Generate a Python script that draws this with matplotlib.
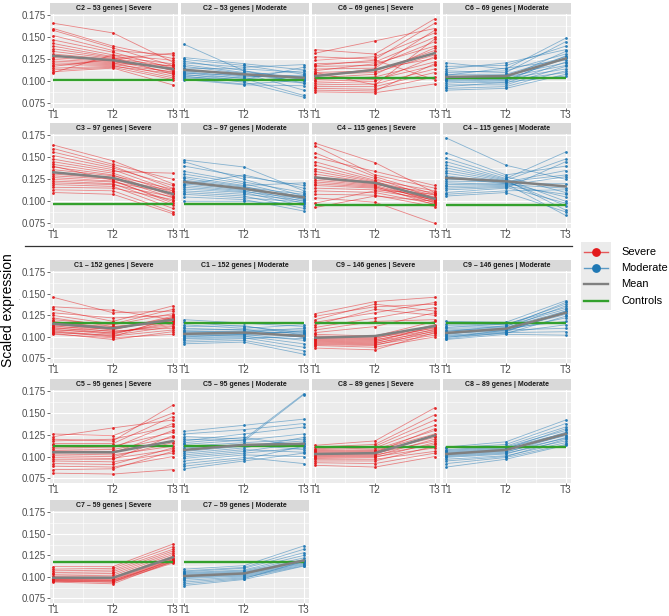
import matplotlib
matplotlib.use("Agg")
import matplotlib.pyplot as plt
from matplotlib.lines import Line2D

plt.rcParams['font.family'] = ['Liberation Sans', 'DejaVu Sans']

# ---------------- data ----------------
TIMES = ["T1", "T2", "T3"]
GROUPS = ["Severe", "Moderate"]
LEGEND_LABELS = ["Severe", "Moderate", "Mean", "Controls"]

GENE_COUNTS = {"C2": 53, "C6": 69, "C3": 97, "C4": 115, "C1": 152,
               "C9": 146, "C5": 95, "C8": 89, "C7": 59}

CONTROLS = {"C2": 0.102, "C6": 0.104, "C3": 0.0974, "C4": 0.0959, "C1": 0.1165,
            "C9": 0.1165, "C5": 0.1127, "C8": 0.1115, "C7": 0.1175}

C2_SEV_MEAN = [0.129, 0.124, 0.114]
C2_MOD_MEAN = [0.113, 0.108, 0.104]
C6_SEV_MEAN = [0.106, 0.113, 0.132]
C6_MOD_MEAN = [0.105, 0.106, 0.126]
C3_SEV_MEAN = [0.133, 0.1266, 0.1084]
C3_MOD_MEAN = [0.122, 0.1144, 0.1045]
C4_SEV_MEAN = [0.127, 0.121, 0.103]
C4_MOD_MEAN = [0.1266, 0.1227, 0.117]
C1_SEV_MEAN = [0.1152, 0.110, 0.120]
C1_MOD_MEAN = [0.1035, 0.105, 0.101]
C9_SEV_MEAN = [0.099, 0.101, 0.1126]
C9_MOD_MEAN = [0.1046, 0.1095, 0.128]
C5_SEV_MEAN = [0.105, 0.105, 0.1178]
C5_MOD_MEAN = [0.1077, 0.1135, 0.1147]
C8_SEV_MEAN = [0.103, 0.104, 0.1243]
C8_MOD_MEAN = [0.103, 0.1077, 0.126]
C7_SEV_MEAN = [0.099, 0.099, 0.1227]
C7_MOD_MEAN = [0.101, 0.104, 0.119]

C2_SEV = [(0.166, 0.155, 0.122), (0.160, 0.140, 0.126), (0.158, 0.138, 0.118), (0.152, 0.135, 0.130),
          (0.147, 0.133, 0.115), (0.143, 0.130, 0.112), (0.140, 0.128, 0.120), (0.137, 0.127, 0.108),
          (0.134, 0.126, 0.117), (0.131, 0.125, 0.113), (0.129, 0.123, 0.110), (0.127, 0.122, 0.115),
          (0.125, 0.121, 0.106), (0.123, 0.120, 0.118), (0.121, 0.119, 0.111), (0.119, 0.118, 0.104),
          (0.117, 0.125, 0.132), (0.115, 0.117, 0.109), (0.113, 0.116, 0.102), (0.111, 0.115, 0.096),
          (0.110, 0.130, 0.124)]
C2_MOD = [(0.142, 0.112, 0.098), (0.127, 0.120, 0.113), (0.125, 0.118, 0.108), (0.123, 0.112, 0.102),
          (0.121, 0.116, 0.119), (0.119, 0.110, 0.105), (0.117, 0.109, 0.090), (0.115, 0.114, 0.110),
          (0.114, 0.106, 0.104), (0.112, 0.108, 0.100), (0.111, 0.105, 0.107), (0.110, 0.103, 0.084),
          (0.109, 0.107, 0.112), (0.108, 0.101, 0.103), (0.107, 0.104, 0.098), (0.106, 0.099, 0.082),
          (0.105, 0.102, 0.116), (0.104, 0.100, 0.106), (0.103, 0.097, 0.101), (0.102, 0.096, 0.095)]
C6_SEV = [(0.136, 0.131, 0.171), (0.132, 0.146, 0.160), (0.128, 0.125, 0.166), (0.124, 0.128, 0.155),
          (0.120, 0.122, 0.150), (0.117, 0.118, 0.145), (0.114, 0.115, 0.158), (0.112, 0.120, 0.140),
          (0.110, 0.112, 0.135), (0.108, 0.110, 0.130), (0.106, 0.114, 0.126), (0.104, 0.108, 0.138),
          (0.102, 0.105, 0.122), (0.100, 0.102, 0.118), (0.098, 0.100, 0.128), (0.096, 0.097, 0.114),
          (0.094, 0.094, 0.110), (0.092, 0.091, 0.105), (0.090, 0.089, 0.120), (0.088, 0.087, 0.097),
          (0.118, 0.124, 0.102), (0.110, 0.096, 0.148)]
C6_MOD = [(0.121, 0.114, 0.149), (0.117, 0.118, 0.140), (0.114, 0.121, 0.136), (0.112, 0.110, 0.145),
          (0.110, 0.112, 0.131), (0.108, 0.108, 0.128), (0.107, 0.115, 0.124), (0.106, 0.104, 0.134),
          (0.105, 0.107, 0.121), (0.104, 0.102, 0.126), (0.103, 0.105, 0.118), (0.102, 0.100, 0.129),
          (0.101, 0.103, 0.114), (0.100, 0.098, 0.122), (0.098, 0.101, 0.110), (0.096, 0.096, 0.117),
          (0.094, 0.099, 0.106), (0.092, 0.094, 0.112), (0.090, 0.092, 0.108)]
C3_SEV = [(0.164, 0.146, 0.120), (0.160, 0.142, 0.125), (0.156, 0.140, 0.115), (0.152, 0.138, 0.118),
          (0.148, 0.136, 0.112), (0.145, 0.134, 0.132), (0.142, 0.132, 0.110), (0.139, 0.130, 0.106),
          (0.136, 0.129, 0.114), (0.133, 0.127, 0.108), (0.131, 0.126, 0.104), (0.129, 0.125, 0.112),
          (0.127, 0.123, 0.100), (0.125, 0.122, 0.109), (0.123, 0.120, 0.096), (0.121, 0.119, 0.105),
          (0.119, 0.117, 0.092), (0.116, 0.115, 0.102), (0.113, 0.112, 0.088), (0.110, 0.108, 0.086),
          (0.140, 0.124, 0.098)]
C3_MOD = [(0.147, 0.139, 0.112), (0.145, 0.125, 0.106), (0.140, 0.128, 0.118), (0.134, 0.122, 0.110),
          (0.131, 0.120, 0.104), (0.128, 0.118, 0.121), (0.126, 0.117, 0.102), (0.124, 0.116, 0.108),
          (0.122, 0.114, 0.100), (0.120, 0.113, 0.106), (0.118, 0.112, 0.098), (0.116, 0.111, 0.103),
          (0.114, 0.110, 0.095), (0.112, 0.108, 0.101), (0.110, 0.106, 0.092), (0.108, 0.104, 0.099),
          (0.105, 0.102, 0.089), (0.100, 0.100, 0.097), (0.119, 0.130, 0.115)]
C4_SEV = [(0.166, 0.144, 0.110), (0.163, 0.130, 0.115), (0.155, 0.128, 0.108), (0.150, 0.134, 0.118),
          (0.145, 0.126, 0.104), (0.141, 0.124, 0.112), (0.137, 0.123, 0.100), (0.134, 0.122, 0.107),
          (0.131, 0.121, 0.098), (0.128, 0.120, 0.105), (0.126, 0.119, 0.110), (0.124, 0.118, 0.101),
          (0.122, 0.117, 0.096), (0.120, 0.116, 0.103), (0.118, 0.115, 0.099), (0.115, 0.113, 0.108),
          (0.112, 0.110, 0.097), (0.108, 0.107, 0.094), (0.104, 0.099, 0.075), (0.098, 0.112, 0.102),
          (0.093, 0.106, 0.100)]
C4_MOD = [(0.172, 0.141, 0.125), (0.155, 0.130, 0.140), (0.149, 0.128, 0.110), (0.145, 0.126, 0.156),
          (0.141, 0.125, 0.100), (0.138, 0.124, 0.148), (0.135, 0.123, 0.095), (0.132, 0.122, 0.130),
          (0.129, 0.121, 0.105), (0.127, 0.120, 0.120), (0.125, 0.124, 0.090), (0.123, 0.122, 0.135),
          (0.121, 0.119, 0.115), (0.119, 0.120, 0.084), (0.117, 0.118, 0.128), (0.115, 0.117, 0.108),
          (0.113, 0.116, 0.098), (0.110, 0.115, 0.145), (0.108, 0.112, 0.113), (0.106, 0.110, 0.088)]
C1_SEV = [(0.146, 0.128, 0.130), (0.135, 0.131, 0.120), (0.132, 0.118, 0.136), (0.128, 0.122, 0.125),
          (0.125, 0.115, 0.132), (0.122, 0.112, 0.118), (0.120, 0.114, 0.127), (0.118, 0.110, 0.122),
          (0.116, 0.112, 0.116), (0.115, 0.108, 0.124), (0.114, 0.110, 0.119), (0.113, 0.106, 0.113),
          (0.112, 0.109, 0.121), (0.111, 0.104, 0.117), (0.110, 0.107, 0.110), (0.109, 0.103, 0.120),
          (0.108, 0.105, 0.115), (0.107, 0.101, 0.108), (0.106, 0.100, 0.123), (0.105, 0.102, 0.112),
          (0.104, 0.097, 0.106), (0.103, 0.099, 0.103)]
C1_MOD = [(0.120, 0.116, 0.112), (0.117, 0.112, 0.105), (0.114, 0.110, 0.114), (0.112, 0.113, 0.102),
          (0.110, 0.108, 0.108), (0.108, 0.109, 0.099), (0.107, 0.106, 0.110), (0.106, 0.107, 0.104),
          (0.105, 0.105, 0.100), (0.104, 0.104, 0.106), (0.103, 0.103, 0.096), (0.102, 0.102, 0.103),
          (0.101, 0.101, 0.092), (0.100, 0.103, 0.107), (0.099, 0.100, 0.098), (0.098, 0.099, 0.088),
          (0.096, 0.098, 0.101), (0.094, 0.096, 0.084), (0.092, 0.094, 0.080)]
C9_SEV = [(0.127, 0.141, 0.146), (0.124, 0.135, 0.138), (0.120, 0.138, 0.130), (0.117, 0.128, 0.140),
          (0.114, 0.132, 0.125), (0.111, 0.122, 0.134), (0.108, 0.118, 0.120), (0.105, 0.112, 0.128),
          (0.103, 0.101, 0.118), (0.101, 0.100, 0.112), (0.100, 0.099, 0.110), (0.099, 0.098, 0.114),
          (0.098, 0.097, 0.108), (0.097, 0.096, 0.111), (0.096, 0.095, 0.106), (0.095, 0.094, 0.113),
          (0.094, 0.093, 0.104), (0.093, 0.092, 0.109), (0.092, 0.091, 0.102), (0.091, 0.090, 0.107),
          (0.090, 0.088, 0.100), (0.087, 0.085, 0.105)]
C9_MOD = [(0.118, 0.117, 0.142), (0.115, 0.114, 0.138), (0.113, 0.112, 0.140), (0.111, 0.115, 0.134),
          (0.110, 0.111, 0.130), (0.108, 0.110, 0.136), (0.107, 0.109, 0.126), (0.106, 0.113, 0.132),
          (0.105, 0.108, 0.122), (0.104, 0.107, 0.128), (0.103, 0.110, 0.118), (0.102, 0.106, 0.130),
          (0.101, 0.105, 0.114), (0.100, 0.104, 0.124), (0.099, 0.108, 0.110), (0.098, 0.105, 0.106),
          (0.097, 0.103, 0.102)]
C5_SEV = [(0.126, 0.124, 0.150), (0.123, 0.133, 0.142), (0.120, 0.118, 0.159), (0.118, 0.120, 0.135),
          (0.115, 0.115, 0.146), (0.113, 0.112, 0.128), (0.111, 0.110, 0.138), (0.109, 0.108, 0.122),
          (0.107, 0.106, 0.118), (0.105, 0.104, 0.130), (0.103, 0.102, 0.112), (0.101, 0.100, 0.116),
          (0.099, 0.098, 0.108), (0.097, 0.097, 0.124), (0.095, 0.094, 0.104), (0.092, 0.091, 0.110),
          (0.089, 0.088, 0.100), (0.085, 0.086, 0.106), (0.081, 0.080, 0.085)]
C5_MOD = [(0.129, 0.136, 0.143), (0.126, 0.131, 0.138), (0.123, 0.120, 0.172), (0.120, 0.118, 0.171),
          (0.118, 0.126, 0.134), (0.116, 0.122, 0.112), (0.114, 0.119, 0.126), (0.112, 0.116, 0.120),
          (0.110, 0.114, 0.108), (0.108, 0.113, 0.118), (0.106, 0.112, 0.114), (0.104, 0.110, 0.122),
          (0.102, 0.108, 0.105), (0.100, 0.106, 0.116), (0.098, 0.104, 0.110), (0.095, 0.102, 0.100),
          (0.092, 0.099, 0.092), (0.089, 0.097, 0.112), (0.086, 0.095, 0.104)]
C8_SEV = [(0.113, 0.118, 0.156), (0.111, 0.114, 0.148), (0.109, 0.112, 0.142), (0.108, 0.110, 0.136),
          (0.107, 0.108, 0.130), (0.106, 0.107, 0.126), (0.105, 0.106, 0.122), (0.104, 0.105, 0.132),
          (0.103, 0.104, 0.118), (0.102, 0.103, 0.124), (0.101, 0.102, 0.114), (0.100, 0.101, 0.120),
          (0.099, 0.100, 0.110), (0.098, 0.099, 0.116), (0.097, 0.097, 0.106), (0.095, 0.095, 0.112),
          (0.093, 0.092, 0.104), (0.090, 0.088, 0.100)]
C8_MOD = [(0.111, 0.117, 0.142), (0.110, 0.114, 0.138), (0.108, 0.112, 0.134), (0.107, 0.111, 0.130),
          (0.106, 0.110, 0.127), (0.105, 0.109, 0.132), (0.104, 0.108, 0.124), (0.103, 0.107, 0.128),
          (0.102, 0.106, 0.121), (0.101, 0.105, 0.125), (0.100, 0.104, 0.118), (0.099, 0.103, 0.122),
          (0.097, 0.101, 0.116), (0.095, 0.100, 0.120), (0.092, 0.099, 0.114), (0.088, 0.097, 0.113)]
C7_SEV = [(0.112, 0.112, 0.138), (0.109, 0.110, 0.135), (0.107, 0.108, 0.132), (0.105, 0.106, 0.130),
          (0.103, 0.104, 0.128), (0.101, 0.102, 0.126), (0.100, 0.100, 0.124), (0.099, 0.099, 0.122),
          (0.098, 0.098, 0.121), (0.097, 0.097, 0.120), (0.097, 0.096, 0.119), (0.096, 0.096, 0.118),
          (0.096, 0.095, 0.117), (0.095, 0.094, 0.120), (0.095, 0.094, 0.116), (0.094, 0.092, 0.118)]
C7_MOD = [(0.109, 0.113, 0.136), (0.107, 0.111, 0.132), (0.106, 0.110, 0.128), (0.105, 0.108, 0.125),
          (0.104, 0.107, 0.122), (0.103, 0.106, 0.120), (0.102, 0.105, 0.119), (0.101, 0.104, 0.118),
          (0.100, 0.103, 0.117), (0.099, 0.102, 0.116), (0.098, 0.101, 0.115), (0.096, 0.100, 0.114),
          (0.094, 0.099, 0.113), (0.092, 0.098, 0.118), (0.090, 0.097, 0.1125)]

# panel grid: (row, col, cluster, group, genes, mean)
PANELS = [
    (0, 0, "C2", "Severe", C2_SEV, C2_SEV_MEAN), (0, 1, "C2", "Moderate", C2_MOD, C2_MOD_MEAN),
    (0, 2, "C6", "Severe", C6_SEV, C6_SEV_MEAN), (0, 3, "C6", "Moderate", C6_MOD, C6_MOD_MEAN),
    (1, 0, "C3", "Severe", C3_SEV, C3_SEV_MEAN), (1, 1, "C3", "Moderate", C3_MOD, C3_MOD_MEAN),
    (1, 2, "C4", "Severe", C4_SEV, C4_SEV_MEAN), (1, 3, "C4", "Moderate", C4_MOD, C4_MOD_MEAN),
    (2, 0, "C1", "Severe", C1_SEV, C1_SEV_MEAN), (2, 1, "C1", "Moderate", C1_MOD, C1_MOD_MEAN),
    (2, 2, "C9", "Severe", C9_SEV, C9_SEV_MEAN), (2, 3, "C9", "Moderate", C9_MOD, C9_MOD_MEAN),
    (3, 0, "C5", "Severe", C5_SEV, C5_SEV_MEAN), (3, 1, "C5", "Moderate", C5_MOD, C5_MOD_MEAN),
    (3, 2, "C8", "Severe", C8_SEV, C8_SEV_MEAN), (3, 3, "C8", "Moderate", C8_MOD, C8_MOD_MEAN),
    (4, 0, "C7", "Severe", C7_SEV, C7_SEV_MEAN), (4, 1, "C7", "Moderate", C7_MOD, C7_MOD_MEAN),
]

# ---------------- styling / layout ----------------
COLORS = {"Severe": "#E31A1C", "Moderate": "#1F78B4"}
MEAN_COLOR = "#808080"
CTRL_COLOR = "#33A02C"
W, H = 669, 616
COL_X = [50, 181, 312, 443]
PANEL_W = 128
ROW_Y = [(14, 108), (134, 228), (271, 363), (390, 483), (511, 603)]
STRIP_H = 11

fig = plt.figure(figsize=(W / 100, H / 100), dpi=100)
fig.patch.set_facecolor("white")


def add_ax(x0, y0, x1, y1):
    return fig.add_axes([x0 / W, 1 - y1 / H, (x1 - x0) / W, (y1 - y0) / H])


xpos = [1, 2, 3]
for row, col, cl, grp, genes, mean in PANELS:
    x0 = COL_X[col]
    y0, y1 = ROW_Y[row]
    ax = add_ax(x0, y0, x0 + PANEL_W, y1)
    ax.set_facecolor("#EBEBEB")
    for s in ax.spines.values():
        s.set_visible(False)
    ax.set_xlim(0.945, 3.09)
    ax.set_ylim(0.0697, 0.1765)
    ax.set_xticks(xpos)
    ax.set_xticklabels(TIMES)
    ax.set_xticks([1.5, 2.5], minor=True)
    ax.set_yticks([0.075, 0.100, 0.125, 0.150, 0.175])
    ax.set_yticks([0.0875, 0.1125, 0.1375, 0.1625], minor=True)
    ax.grid(which="major", color="white", lw=0.8)
    ax.grid(which="minor", color="white", lw=0.4)
    ax.set_axisbelow(True)
    ax.tick_params(which="major", length=2.2, width=0.5, color="#333333",
                   labelsize=7, labelcolor="#4D4D4D", pad=1)
    ax.tick_params(axis="x", which="major", pad=-0.5, labelsize=7.2)
    ax.tick_params(which="minor", length=0)
    if col == 0:
        ax.set_yticklabels(["0.075", "0.100", "0.125", "0.150", "0.175"])
    else:
        ax.set_yticklabels([])
        ax.tick_params(axis="y", which="major", length=0)
    c = COLORS[grp]
    for g in genes:
        ax.plot(xpos, g, color=c, lw=0.6, alpha=0.5, zorder=2)
        ax.scatter(xpos, g, color=c, s=4, lw=0, alpha=0.95, zorder=3)
    ctrl = CONTROLS[cl]
    ax.plot([1, 3], [ctrl, ctrl], color=CTRL_COLOR, lw=1.7, zorder=4, solid_capstyle="butt")
    ax.plot(xpos, mean, color=MEAN_COLOR, lw=1.8, zorder=5)

    sax = add_ax(x0, y0 - STRIP_H, x0 + PANEL_W, y0)
    sax.set_facecolor("#D9D9D9")
    sax.set_xticks([])
    sax.set_yticks([])
    for s in sax.spines.values():
        s.set_visible(False)
    sax.text(0.5, 0.5, f"{cl} \u2013 {GENE_COUNTS[cl]} genes | {grp}", ha="center", va="center",
             fontsize=5, fontweight="bold", color="#1A1A1A", transform=sax.transAxes)

# separator line between the two blocks
fig.add_artist(Line2D([25 / W, 572 / W], [1 - 246 / H, 1 - 246 / H], color="#333333", lw=0.9))

# y label
fig.text(8 / W, 1 - 310 / H, "Scaled expression", rotation=90, ha="center", va="center",
         fontsize=10, color="black")
fig.text(19 / W, 1 - 298 / H, ".", ha="center", va="center", fontsize=4, color="#4D4D4D")

# legend
lax = add_ax(581, 242, 611, 310)
lax.set_facecolor("#EBEBEB")
lax.set_xlim(0, 1)
lax.set_ylim(310, 242)
lax.set_xticks([])
lax.set_yticks([])
for s in lax.spines.values():
    s.set_visible(False)
leg_y = [252, 268, 284, 301]
leg_colors = [COLORS["Severe"], COLORS["Moderate"], MEAN_COLOR, CTRL_COLOR]
for i, (lab, yy, cc) in enumerate(zip(LEGEND_LABELS, leg_y, leg_colors)):
    if i < 2:
        lax.plot([0.1, 0.9], [yy, yy], color=cc, lw=1.0, alpha=0.7)
        lax.scatter([0.5], [yy], color=cc, s=28, zorder=3)
    else:
        lax.plot([0.1, 0.9], [yy, yy], color=cc, lw=1.7)
    fig.text(621 / W, 1 - yy / H, lab, ha="left", va="center", fontsize=7.9, color="black")

fig.savefig("out.png", dpi=100)
